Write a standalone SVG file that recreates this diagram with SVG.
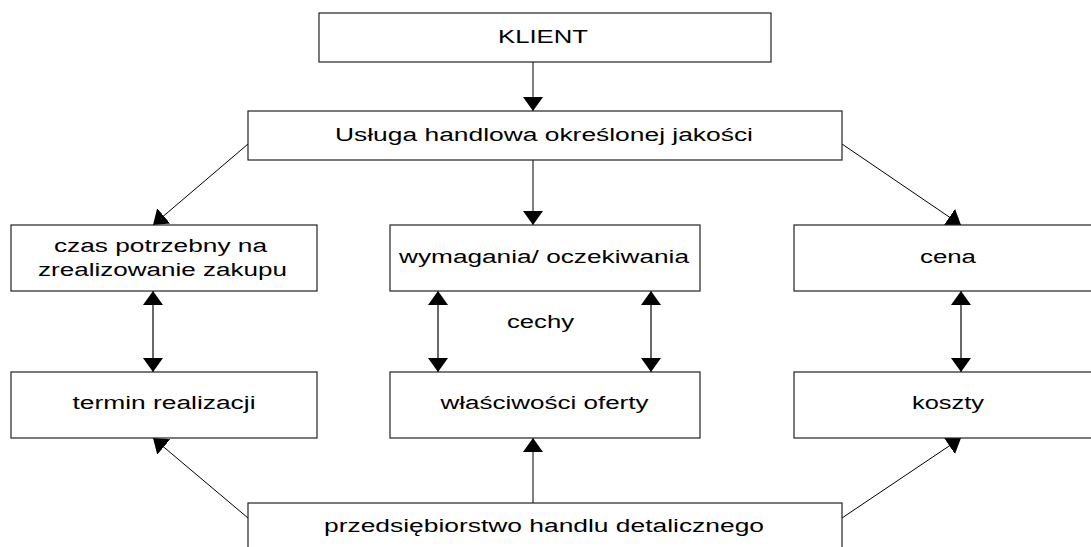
<svg xmlns="http://www.w3.org/2000/svg" width="1091" height="547" viewBox="0 0 1091 547">
<style>
.box{fill:#ffffff;stroke:#222222;stroke-width:1.2}
.t{font-family:"Liberation Sans",Arial,sans-serif;font-size:18px;fill:#000000;text-anchor:middle}
.c{stroke:#000000;stroke-width:1;fill:none}
.d{stroke:#444444;stroke-width:1.6;fill:none}
</style>
<defs>
<marker id="ah" viewBox="0 0 14 20" refX="14" refY="10" markerWidth="14" markerHeight="20" markerUnits="userSpaceOnUse" orient="auto-start-reverse">
<path d="M0,0 L14,10 L0,20 z" fill="#000000"/>
</marker>
</defs>
<rect width="1091" height="547" fill="#ffffff"/>
<g id="connectors">
<line class="c" x1="533" y1="62" x2="533" y2="111" marker-end="url(#ah)"/>
<line class="c" x1="533" y1="160" x2="533" y2="225" marker-end="url(#ah)"/>
<line class="c" x1="248" y1="144" x2="153" y2="225" marker-end="url(#ah)"/>
<line class="c" x1="842" y1="144" x2="961" y2="225" marker-end="url(#ah)"/>
<line class="d" x1="153" y1="291" x2="153" y2="372" marker-start="url(#ah)" marker-end="url(#ah)"/>
<line class="d" x1="438" y1="291" x2="438" y2="372" marker-start="url(#ah)" marker-end="url(#ah)"/>
<line class="d" x1="651" y1="291" x2="651" y2="372" marker-start="url(#ah)" marker-end="url(#ah)"/>
<line class="d" x1="961" y1="291" x2="961" y2="372" marker-start="url(#ah)" marker-end="url(#ah)"/>
<line class="c" x1="248" y1="518" x2="153" y2="438" marker-end="url(#ah)"/>
<line class="c" x1="533" y1="503" x2="533" y2="438" marker-end="url(#ah)"/>
<line class="c" x1="842" y1="518" x2="961" y2="438" marker-end="url(#ah)"/>
<text class="t" x="540.5" y="328" textLength="67" lengthAdjust="spacingAndGlyphs">cechy</text>
</g>
<g id="klient">
<rect class="box" x="319" y="13" width="452" height="49"/>
<text class="t" x="543" y="43" textLength="90" lengthAdjust="spacingAndGlyphs">KLIENT</text>
</g>
<g id="usluga">
<rect class="box" x="248" y="111" width="594" height="49"/>
<text class="t" x="544" y="141" textLength="418" lengthAdjust="spacingAndGlyphs">Usługa handlowa określonej jakości</text>
</g>
<g id="czas">
<rect class="box" x="11" y="225" width="306" height="66"/>
<text class="t" x="160.5" y="252" textLength="213" lengthAdjust="spacingAndGlyphs">czas potrzebny na</text>
<text class="t" x="162.5" y="276" textLength="249" lengthAdjust="spacingAndGlyphs">zrealizowanie zakupu</text>
</g>
<g id="wymagania">
<rect class="box" x="390" y="225" width="310" height="66"/>
<text class="t" x="544" y="263" textLength="290" lengthAdjust="spacingAndGlyphs">wymagania/ oczekiwania</text>
</g>
<g id="cena">
<rect class="box" x="794" y="225" width="308" height="66"/>
<text class="t" x="948" y="263" textLength="56" lengthAdjust="spacingAndGlyphs">cena</text>
</g>
<g id="termin">
<rect class="box" x="11" y="372" width="306" height="66"/>
<text class="t" x="164" y="409" textLength="183" lengthAdjust="spacingAndGlyphs">termin realizacji</text>
</g>
<g id="wlasciwosci">
<rect class="box" x="390" y="372" width="310" height="66"/>
<text class="t" x="544.5" y="409" textLength="208" lengthAdjust="spacingAndGlyphs">właściwości oferty</text>
</g>
<g id="koszty">
<rect class="box" x="794" y="372" width="308" height="66"/>
<text class="t" x="948" y="409" textLength="72" lengthAdjust="spacingAndGlyphs">koszty</text>
</g>
<g id="przedsiebiorstwo">
<rect class="box" x="248" y="503" width="594" height="60"/>
<text class="t" x="544" y="532" textLength="440" lengthAdjust="spacingAndGlyphs">przedsiębiorstwo handlu detalicznego</text>
</g>
</svg>
